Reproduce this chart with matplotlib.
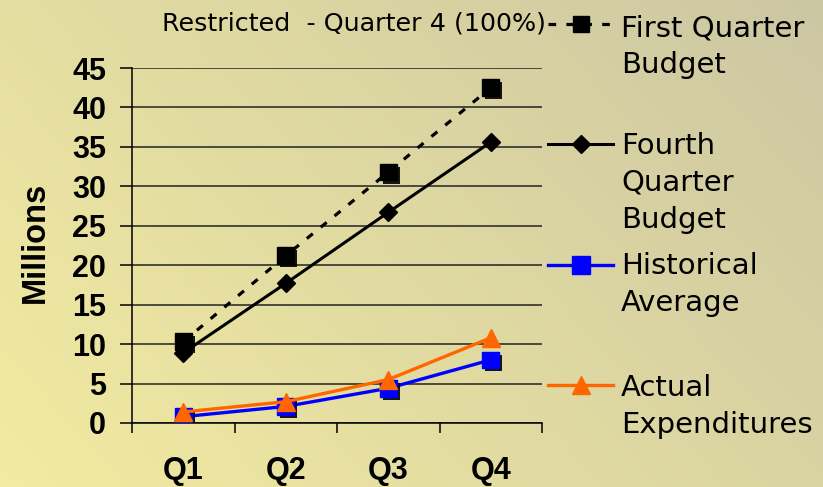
import matplotlib
matplotlib.use("Agg")
import matplotlib.pyplot as plt
import matplotlib.patheffects as pe
from matplotlib.lines import Line2D
import numpy as np

# --- data ---
quarters = ["Q1", "Q2", "Q3", "Q4"]
first_q_budget = [10.3, 21.2, 31.8, 42.5]
fourth_q_budget = [8.9, 17.7, 26.7, 35.6]
historical_avg = [0.8, 2.1, 4.4, 8.0]
actual_exp = [1.4, 2.7, 5.5, 10.8]
y_ticks = [0, 5, 10, 15, 20, 25, 30, 35, 40, 45]
title_text = "Restricted  - Quarter 4 (100%)"
legend_labels = ["First Quarter\nBudget", "Fourth\nQuarter\nBudget",
                 "Historical\nAverage", "Actual\nExpenditures"]

BLUE, ORANGE = "#0000FF", "#FF6600"
W, H = 823, 487

fig = plt.figure(figsize=(W / 100, H / 100), dpi=100)

# background gradient (yellow-beige)
bg = fig.add_axes([0, 0, 1, 1], zorder=-10)
gx, gy = np.meshgrid(np.linspace(0, 1, 200), np.linspace(0, 1, 120))
c0 = np.array([0.95, 0.92, 0.63])   # bottom-left
c1 = np.array([0.80, 0.78, 0.64])   # top-right
t = np.clip(0.65 * gx + 0.35 * gy, 0, 1)[..., None]
bg.imshow(c0 * (1 - t) + c1 * t, origin="lower", aspect="auto", extent=[0, 1, 0, 1])
bg.axis("off")

ax = fig.add_axes([132 / W, 1 - 423 / H, 410 / W, 355 / H])
ax.patch.set_alpha(0)
x = np.arange(len(quarters))

shadow = [pe.SimplePatchShadow(offset=(2.2, -2.2), shadow_rgbFace="black", alpha=0.9), pe.Normal()]

ax.plot(x, first_q_budget, color="black", lw=2.3, dashes=(2.4, 3.2), zorder=3)
ax.plot(x, first_q_budget, ls="none", marker="s", ms=12, color="black", zorder=4, path_effects=shadow)
ax.plot(x, fourth_q_budget, color="black", lw=2.2, marker="D", ms=9.5, zorder=3)
ax.plot(x, historical_avg, color=BLUE, lw=2.4, zorder=3)
ax.plot(x, historical_avg, ls="none", marker="s", ms=12, color=BLUE, zorder=4, path_effects=shadow)
ax.plot(x, actual_exp, color=ORANGE, lw=2.4, marker="^", ms=13, zorder=5)

ax.set_xlim(-0.5, len(quarters) - 0.5)
ax.set_ylim(0, 45)
ax.set_yticks(y_ticks)
ax.set_xticks(x)
ax.set_xticklabels(quarters)
ax.set_xticks(np.arange(-0.5, len(quarters)), minor=True)

ax.yaxis.grid(True, color="#222222", lw=1.1)
ax.set_axisbelow(True)
for s in ["top", "right"]:
    ax.spines[s].set_visible(False)
for s in ["left", "bottom"]:
    ax.spines[s].set_color("black")
    ax.spines[s].set_linewidth(1.1)

ax.tick_params(axis="y", direction="out", length=8.6, width=1.1, pad=10,
               labelsize=22)
ax.tick_params(axis="x", which="major", length=0, pad=24, labelsize=22)
ax.tick_params(axis="x", which="minor", direction="out", length=7.2, width=1.1)
for lab in ax.get_xticklabels() + ax.get_yticklabels():
    lab.set_fontweight("bold")
    lab.set_family("Liberation Sans")

fig.text(35 / W, 1 - 242 / H, "Millions", rotation=90, ha="center", va="center",
         fontsize=23.5, fontweight="bold", family="Liberation Sans")

fig.text(162 / W, 1 - 31 / H, title_text, ha="left", va="baseline",
         fontsize=18.3, family="DejaVu Sans")

# legend, drawn by hand to keep handles on the first text line
styles = [
    dict(color="black", lw=2.3, dashes=(2.4, 3.2), marker="s", ms=12),
    dict(color="black", lw=2.2, marker="D", ms=9.5),
    dict(color=BLUE, lw=2.4, marker="s", ms=13),
    dict(color=ORANGE, lw=2.4, marker="^", ms=13),
]
handle_y = [24, 144, 265, 385]
text_top = [14, 132, 252, 374]
for st, hy, ty, lab in zip(styles, handle_y, text_top, legend_labels):
    fig.add_artist(Line2D([548 / W, 613 / W], [1 - hy / H, 1 - hy / H],
                          transform=fig.transFigure, markevery=[], **st))
    fig.add_artist(Line2D([581 / W], [1 - hy / H], transform=fig.transFigure,
                          ls="none", marker=st["marker"], ms=st["ms"], color=st["color"]))
    fig.text(621 / W, 1 - ty / H, lab, ha="left", va="top", fontsize=21,
             family="DejaVu Sans", linespacing=1.4)

fig.savefig("out.png", dpi=100)
